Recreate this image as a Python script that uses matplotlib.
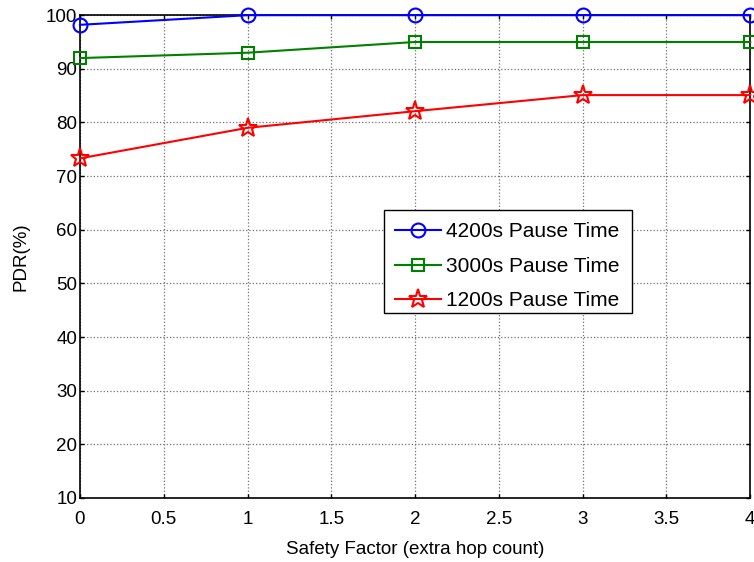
import matplotlib
matplotlib.use("Agg")
import matplotlib.pyplot as plt
from matplotlib.patches import Rectangle

plt.rcParams['font.family'] = ['Liberation Sans', 'DejaVu Sans']

x = [0, 1, 2, 3, 4]
pdr_4200 = [98.2, 100, 100, 100, 100]
pdr_3000 = [92, 93, 95, 95, 95]
pdr_1200 = [73.3, 79, 82.1, 85.1, 85.1]
labels = ['4200s Pause Time', '3000s Pause Time', '1200s Pause Time']

fig = plt.figure(figsize=(7.54, 5.62), dpi=100)
ax = fig.add_axes([0.106, 0.114, 0.889, 0.859])

ax.plot(x, pdr_4200, color='#0000ff', marker='o', markersize=10, markerfacecolor='none',
        markeredgewidth=1.5, linewidth=1.5, label=labels[0], clip_on=False, zorder=5)
ax.plot(x, pdr_3000, color='#008000', marker='s', markersize=8, markerfacecolor='none',
        markeredgewidth=1.5, linewidth=1.5, label=labels[1], clip_on=False, zorder=5)
ax.plot(x, pdr_1200, color='#ff0000', marker='*', markersize=14, markerfacecolor='none',
        markeredgewidth=1.5, linewidth=1.5, label=labels[2], clip_on=False, zorder=5)

ax.set_xlim(0, 4)
ax.set_ylim(10, 100)
ax.set_xticks([0, 0.5, 1, 1.5, 2, 2.5, 3, 3.5, 4])
ax.set_xticklabels(['0', '0.5', '1', '1.5', '2', '2.5', '3', '3.5', '4'])
ax.set_yticks(range(10, 101, 10))
ax.tick_params(direction='in', top=True, right=True, labelsize=13.5, length=3, width=1)
ax.tick_params(axis='x', pad=9.5)
ax.tick_params(axis='y', pad=2)
ax.grid(True, color='#707070', linestyle=':', linewidth=0.9)
for s in ax.spines.values():
    s.set_linewidth(1.2)
    s.set_color('black')

ax.set_xlabel('Safety Factor (extra hop count)', fontsize=13.5, labelpad=9)
ax.set_ylabel('PDR(%)', fontsize=13.5, labelpad=12)

# legend frame box
frame = Rectangle((0.454, 0.383), 0.37, 0.213, transform=ax.transAxes,
                  facecolor='white', edgecolor='black', linewidth=1.0, zorder=6)
ax.add_patch(frame)

leg = ax.legend(loc='upper left', bbox_to_anchor=(0.451, 0.597, 0.37, 0.0), mode='expand',
                fontsize=15, frameon=False,
                handlelength=2.2, handletextpad=0.25, borderaxespad=0, labelspacing=0.75,
                borderpad=0.6)
leg.set_zorder(7)

fig.savefig('out.png', dpi=100, facecolor='white')
